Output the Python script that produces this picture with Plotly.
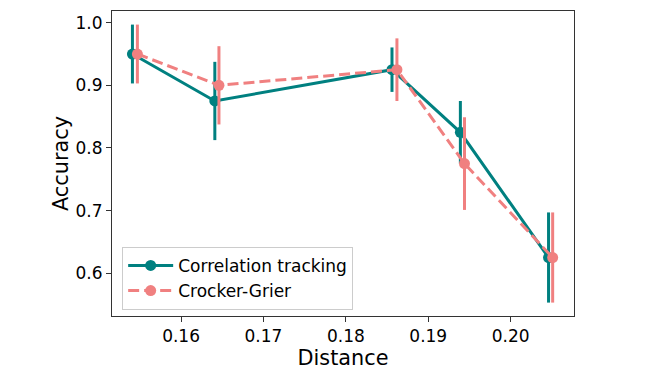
import plotly.graph_objects as go

# Correlation tracking
dist_ct = [0.1541, 0.1641, 0.1856, 0.1939, 0.2046]
acc_ct = [0.95, 0.875, 0.925, 0.825, 0.625]
err_ct = [0.047, 0.0625, 0.0355, 0.05, 0.072]

# Crocker-Grier
dist_cg = [0.1547, 0.1646, 0.1862, 0.1944, 0.2051]
acc_cg = [0.95, 0.90, 0.925, 0.775, 0.625]
err_cg = [0.047, 0.0625, 0.05, 0.074, 0.072]

x_ticks = [0.16, 0.17, 0.18, 0.19, 0.20]
y_ticks = [0.6, 0.7, 0.8, 0.9, 1.0]

teal = '#008080'
coral = '#F08080'

fig = go.Figure()

fig.add_trace(go.Scatter(
    x=dist_ct, y=acc_ct,
    mode='lines+markers',
    name='Correlation tracking',
    line=dict(color=teal, width=3),
    marker=dict(color=teal, size=11),
    error_y=dict(type='data', array=err_ct, color=teal, thickness=3, width=0),
))

fig.add_trace(go.Scatter(
    x=dist_cg, y=acc_cg,
    mode='lines+markers',
    name='Crocker-Grier',
    line=dict(color=coral, width=3, dash='11px,5px'),
    marker=dict(color=coral, size=11),
    error_y=dict(type='data', array=err_cg, color=coral, thickness=3, width=0),
))

axis_style = dict(
    showline=True, mirror=True, linecolor='#333', linewidth=1,
    ticks='outside', ticklen=5, tickcolor='#333',
    showgrid=False, zeroline=False,
    tickfont=dict(size=17, color='black'),
)

# page body has an 8px margin, so the figure is sized to the remaining window
fig.update_layout(
    width=656, height=366,
    margin=dict(l=104, r=90, t=3, b=58),
    paper_bgcolor='white', plot_bgcolor='white',
    font=dict(family='DejaVu Sans', color='black'),
    xaxis=dict(
        range=[0.15162, 0.20769],
        tickvals=x_ticks, ticktext=[f'{v:.2f}' for v in x_ticks],
        title=dict(text='Distance', font=dict(size=20.8), standoff=0),
        **axis_style,
    ),
    yaxis=dict(
        range=[0.5316, 1.0187],
        tickvals=y_ticks, ticktext=[f'{v:.1f}' for v in y_ticks],
        title=dict(text='Accuracy', font=dict(size=20.8), standoff=1),
        **axis_style,
    ),
    legend=dict(
        x=0.022, y=0.02, xanchor='left', yanchor='bottom',
        font=dict(size=17),
        itemwidth=45,
        bordercolor='#cccccc', borderwidth=1,
        bgcolor='rgba(255,255,255,0.8)',
    ),
    showlegend=True,
)

fig.write_html("out.html")
